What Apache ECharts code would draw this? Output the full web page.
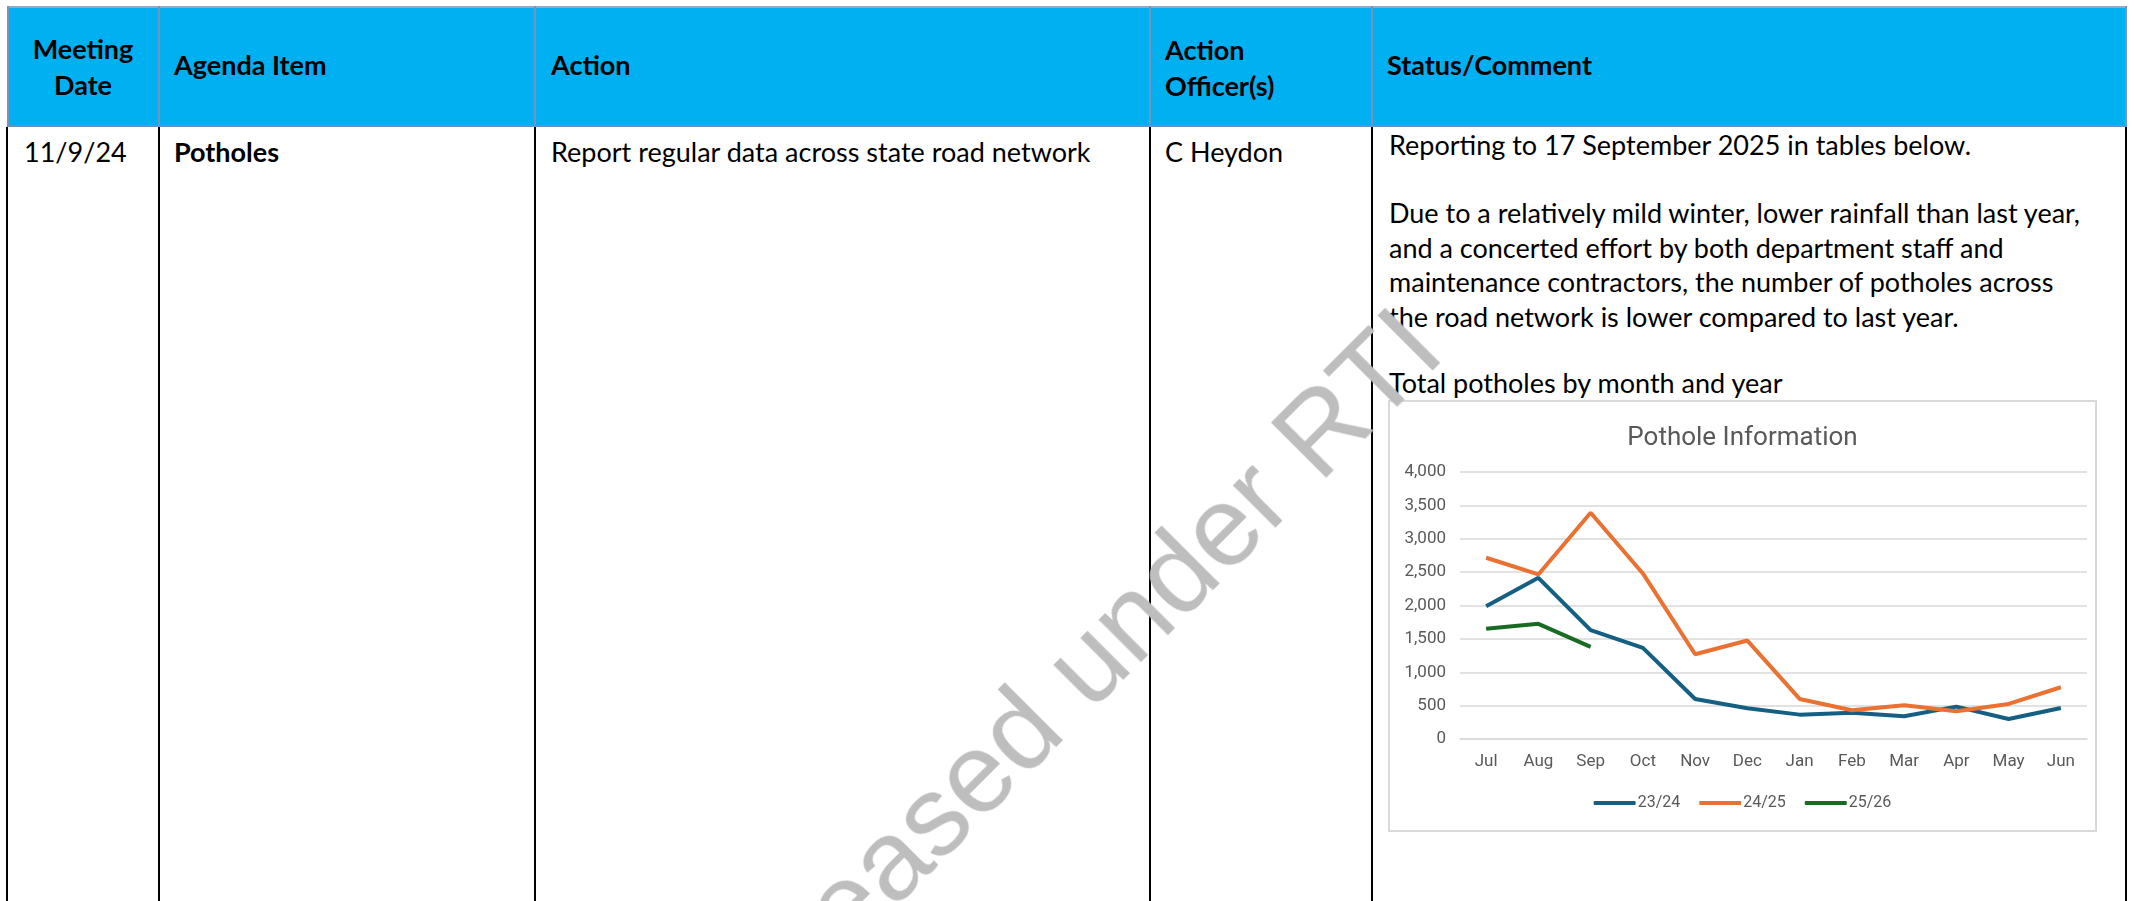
<!DOCTYPE html>
<html>
<head>
<meta charset="utf-8">
<script src="https://cdn.jsdelivr.net/npm/echarts@6/dist/echarts.min.js"></script>
<style>
  html, body { margin: 0; padding: 0; background: #fff; }
  body { width: 2134px; height: 901px; position: relative; overflow: hidden;
         font-family: "Lato", sans-serif; color: #000; }
  .t { position: absolute; white-space: nowrap; font-size: 27px; line-height: 34px; }
  .b { font-weight: bold; }
  .hdr { position: absolute; left: 7px; top: 6px; width: 2120px; height: 121px; background: #00B0F0;
         border-top: 2px solid #8fa9c9; border-bottom: 2px solid #6f8db5; box-sizing: border-box; }
  .hline { position: absolute; top: 6px; height: 121px; width: 2px; background: #7395c0; }
  .vline { position: absolute; top: 127px; height: 800px; width: 2px; background: #000; }
  #chartBox { position: absolute; left: 1388px; top: 400px; width: 709px; height: 432px;
              border: 2px solid #d9d9d9; box-sizing: border-box; background: #fff; }
  #mainChart { width: 705px; height: 428px; }
  .wm { position: absolute; left: 510px; top: 618px; width: 1100px; text-align: center;
        font-family: "Liberation Sans", Arial, sans-serif; font-size: 114px; line-height: 140px;
        color: #bebebe; transform: rotate(-45deg); transform-origin: 50% 50%; z-index: 10;
        white-space: nowrap; pointer-events: none; }
</style>
</head>
<body>
<!-- header row -->
<div class="hdr"></div>
<div class="hline" style="left:7px"></div>
<div class="hline" style="left:158px"></div>
<div class="hline" style="left:534px"></div>
<div class="hline" style="left:1149px"></div>
<div class="hline" style="left:1371px"></div>
<div class="hline" style="left:2125px"></div>

<div class="t b" style="left:7px;width:152px;text-align:center;top:31px;line-height:36px">Meeting<br>Date</div>
<div class="t b" style="left:174px;top:48px">Agenda Item</div>
<div class="t b" style="left:551px;top:48px">Action</div>
<div class="t b" style="left:1165px;top:32px;line-height:36px">Action<br>Officer(s)</div>
<div class="t b" style="left:1387px;top:48px">Status/Comment</div>

<!-- body row -->
<div class="vline" style="left:6px"></div>
<div class="vline" style="left:158px"></div>
<div class="vline" style="left:534px"></div>
<div class="vline" style="left:1149px"></div>
<div class="vline" style="left:1371px"></div>
<div class="vline" style="left:2125px"></div>

<div class="t" style="left:24px;top:135px">11/9/24</div>
<div class="t b" style="left:174px;top:135px">Potholes</div>
<div class="t" style="left:551px;top:135px">Report regular data across state road network</div>
<div class="t" style="left:1165px;top:135px">C Heydon</div>

<div class="t" style="left:1389px;top:128px">Reporting to 17 September 2025 in tables below.</div>
<div class="t" style="left:1389px;top:196px;line-height:34.7px">Due to a relatively mild winter, lower rainfall than last year,<br>and a concerted effort by both department staff and<br>maintenance contractors, the number of potholes across<br>the road network is lower compared to last year.</div>
<div class="t" style="left:1389px;top:366px">Total potholes by month and year</div>

<div id="chartBox"><div id="mainChart"></div></div>

<div class="wm">Released under RTI</div>

<script type="text/javascript">
// 月份与三个财年的坑洼数量
var months = ['Jul', 'Aug', 'Sep', 'Oct', 'Nov', 'Dec', 'Jan', 'Feb', 'Mar', 'Apr', 'May', 'Jun'];
var fy2324 = [1990, 2415, 1630, 1365, 600, 460, 365, 395, 340, 485, 300, 465];
var fy2425 = [2715, 2465, 3390, 2480, 1270, 1475, 600, 430, 505, 415, 525, 775];
var fy2526 = [1650, 1725, 1380];
var seriesNames = ['23/24', '24/25', '25/26'];
var seriesColors = ['#156082', '#E97132', '#196B24'];

var chart = echarts.init(document.getElementById('mainChart'));

function lineSeries(name, data, color) {
    return {
        name: name,
        type: 'line',
        data: data,
        symbol: 'none',
        smooth: false,
        lineStyle: { width: 4, color: color },
        itemStyle: { color: color }
    };
}

var option = {
    animation: false,
    backgroundColor: '#fff',
    title: {
        text: 'Pothole Information',
        left: 'center',
        top: 18,
        textStyle: { color: '#595959', fontSize: 26, fontWeight: 'normal', fontFamily: 'Roboto' }
    },
    legend: {
        data: seriesNames,
        bottom: 14,
        left: 'center',
        icon: 'roundRect',
        itemWidth: 42,
        itemHeight: 4,
        itemGap: 19,
        textStyle: { color: '#595959', fontSize: 16, fontFamily: 'Roboto', padding: [0, 0, 0, -3] }
    },
    grid: { left: 70, right: 8, top: 70, bottom: 91, containLabel: false },
    xAxis: {
        type: 'category',
        data: months,
        boundaryGap: true,
        axisLine: { lineStyle: { color: '#d9d9d9', width: 1.5 } },
        axisTick: { show: false },
        axisLabel: { color: '#595959', fontSize: 17, fontFamily: 'Roboto', margin: 14 }
    },
    yAxis: {
        type: 'value',
        min: 0,
        max: 4000,
        interval: 500,
        axisLine: { show: false },
        axisTick: { show: false },
        axisLabel: {
            color: '#595959', fontSize: 17, fontFamily: 'Roboto', margin: 14,
            formatter: function (v) { return v.toLocaleString('en-US'); }
        },
        splitLine: { lineStyle: { color: '#d9d9d9', width: 1.5 } }
    },
    series: [
        lineSeries(seriesNames[0], fy2324, seriesColors[0]),
        lineSeries(seriesNames[1], fy2425, seriesColors[1]),
        lineSeries(seriesNames[2], fy2526, seriesColors[2])
    ]
};
chart.setOption(option);
</script>
</body>
</html>
